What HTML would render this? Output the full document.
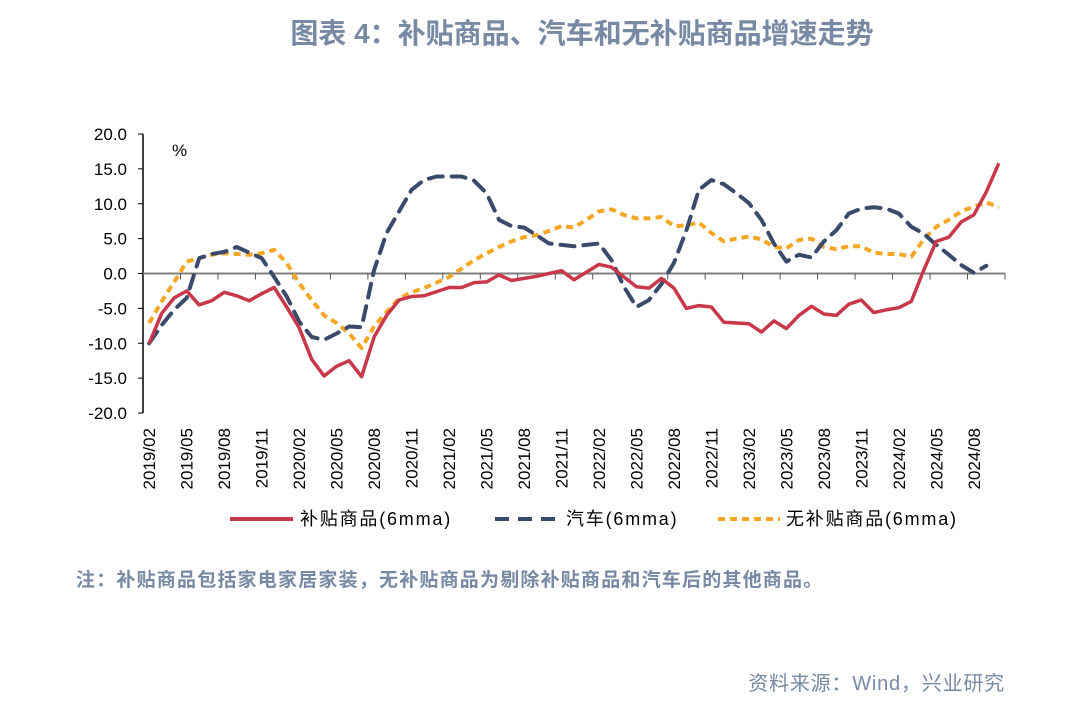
<!DOCTYPE html>
<html><head><meta charset="utf-8"><style>
body{margin:0;background:#fff;width:1077px;height:713px;overflow:hidden;font-family:"Liberation Sans","Noto Sans CJK SC",sans-serif}
</style></head><body>
<svg width="1077" height="713" xmlns="http://www.w3.org/2000/svg">
<text x="582" y="43" text-anchor="middle" font-size="28" font-weight="bold" fill="#7789A3" font-family="Liberation Sans,Noto Sans CJK SC,sans-serif">图表 4：补贴商品、汽车和无补贴商品增速走势</text>
<g id="axes"></g>
<g id="series"></g>
<text x="172" y="156" font-size="17" fill="#000" font-family="Liberation Sans,sans-serif">%</text>
<g>
<line x1="230" y1="519" x2="293" y2="519" stroke="#C8374A" stroke-width="4"/>
<text x="300" y="525" font-size="18" letter-spacing="1.8" font-family="Liberation Sans,Noto Sans CJK SC,sans-serif">补贴商品(6mma)</text>
<line x1="495" y1="519" x2="560" y2="519" stroke="#3A4A6B" stroke-width="4" stroke-dasharray="14,9"/>
<text x="566" y="525" font-size="18" letter-spacing="1.8" font-family="Liberation Sans,Noto Sans CJK SC,sans-serif">汽车(6mma)</text>
<line x1="718" y1="519" x2="780" y2="519" stroke="#F5A623" stroke-width="4" stroke-dasharray="7,5"/>
<text x="786" y="525" font-size="18" letter-spacing="1.8" font-family="Liberation Sans,Noto Sans CJK SC,sans-serif">无补贴商品(6mma)</text>
</g>
<text x="76" y="586" font-size="19" letter-spacing="1.2" fill="#7789A3" font-weight="bold" font-family="Liberation Sans,Noto Sans CJK SC,sans-serif">注：补贴商品包括家电家居家装，无补贴商品为剔除补贴商品和汽车后的其他商品。</text>
<text x="1005" y="690" text-anchor="end" font-size="20" letter-spacing="0.8" fill="#7789A3" font-family="Liberation Sans,Noto Sans CJK SC,sans-serif">资料来源：Wind，兴业研究</text>
</svg>
<script>
const yTicks=[20,15,10,5,0,-5,-10,-15,-20];
const subsidized=[-10,-5.7,-3.5,-2.5,-4.5,-3.9,-2.7,-3.2,-3.9,-2.9,-2.0,-4.8,-7.8,-12.3,-14.7,-13.3,-12.5,-14.8,-9.1,-6.0,-3.8,-3.3,-3.2,-2.6,-2.0,-2.0,-1.3,-1.2,-0.2,-1.0,-0.7,-0.4,0.0,0.4,-0.9,0.2,1.3,0.9,-0.5,-1.9,-2.1,-0.7,-2.1,-5.0,-4.6,-4.8,-7.0,-7.1,-7.2,-8.4,-6.8,-7.9,-6.0,-4.7,-5.8,-6.0,-4.4,-3.8,-5.6,-5.2,-4.9,-4.0,0.5,4.6,5.2,7.4,8.4,11.7,15.8];
const auto=[-10,-7.4,-5.2,-3.5,2.2,2.8,3.1,3.8,3.0,2.2,-0.5,-3.3,-6.9,-9.1,-9.5,-8.6,-7.6,-7.7,0.5,5.8,8.9,12.0,13.4,13.9,13.9,13.9,13.3,11.5,7.7,6.8,6.6,5.5,4.3,4.1,3.9,4.1,4.3,1.9,-1.9,-4.8,-3.8,-1.5,1.5,6.2,12.0,13.4,12.8,11.5,10.1,7.7,4.3,1.7,2.7,2.3,4.6,6.2,8.6,9.3,9.5,9.3,8.6,6.7,5.7,4.1,2.7,1.2,0.1,1.1,null];
const nonSubsidized=[-7.1,-4.0,-1.2,1.7,2.2,2.7,2.9,2.8,2.7,2.9,3.4,1.5,-1.4,-3.8,-6.0,-7.1,-8.6,-10.7,-7.6,-5.5,-3.6,-2.7,-2.1,-1.3,-0.5,0.7,1.9,2.9,3.8,4.6,5.2,5.5,6.1,6.8,6.6,7.7,8.9,9.2,8.4,7.9,7.9,8.1,6.8,6.9,7.3,5.8,4.6,5.0,5.3,4.9,3.8,3.6,4.8,5.0,3.8,3.5,3.9,3.9,3.0,2.8,2.8,2.4,4.9,6.7,7.7,8.9,9.6,10.2,9.5];
const startYear=2019,startMonth=2;
const NS='http://www.w3.org/2000/svg';
const X0=143,X1=1005,Y0=134,Y1=413,n=subsidized.length;
const step=(X1-X0)/n;
const xs=i=>X0+step*(i+0.5);
const ys=v=>Y0+(20-v)/40*(Y1-Y0);
function mk(tag,attrs,parent){const e=document.createElementNS(NS,tag);for(const k in attrs)e.setAttribute(k,attrs[k]);parent.appendChild(e);return e;}
const axes=document.getElementById('axes');
const yAxis=mk('line',{x1:X0,y1:Y0,x2:X0,y2:Y1,stroke:'#000','stroke-width':1.5},axes);


yTicks.forEach(t=>{
 const tk=mk('line',{x1:X0-5,y1:ys(t),x2:X0,y2:ys(t),stroke:'#000'},axes);
 
 
 const lb=mk('text',{x:X0-16,y:ys(t)+6,'text-anchor':'end','font-size':17,'font-family':'Liberation Sans,sans-serif'},axes);
 lb.textContent=t.toFixed(1);
 
 
});
const zero=mk('line',{x1:X0,y1:ys(0),x2:X1,y2:ys(0),stroke:'#808080','stroke-width':2},axes);


for(let i=0;i<n;i++){
 if(i%3===0){
  const bx=X0+step*(i+3);
  if(bx<=X1+1){const tk=mk('line',{x1:bx,y1:ys(0),x2:bx,y2:ys(0)+6,stroke:'#555'},axes);
  
  }
  const m=startMonth-1+i,yr=startYear+Math.floor(m/12),mo=m%12+1;
  const lx=xs(i)+6,ly=428;
  const lb=mk('text',{x:lx,y:ly,'text-anchor':'end','font-size':17,'font-family':'Liberation Sans,sans-serif',transform:`rotate(-90 ${lx} ${ly})`},axes);
  lb.textContent=yr+'/'+String(mo).padStart(2,'0');
  
  
 }
}
const sg=document.getElementById('series');
function path(arr){let d='',pen=false;arr.forEach((v,i)=>{if(v===null){pen=false;return;}d+=(pen?'L':'M')+xs(i).toFixed(1)+','+ys(v).toFixed(1);pen=true;});return d;}
const p3=mk('path',{d:path(nonSubsidized),fill:'none',stroke:'#F5A623','stroke-width':4,'stroke-dasharray':'7,5','stroke-linejoin':'round'},sg);


const p2=mk('path',{d:path(auto),fill:'none',stroke:'#3A4A6B','stroke-width':4,'stroke-dasharray':'14,9','stroke-linecap':'round','stroke-linejoin':'round'},sg);


const p1=mk('path',{d:path(subsidized),fill:'none',stroke:'#C8374A','stroke-width':3.5,'stroke-linejoin':'round'},sg);


</script>
</body></html>
